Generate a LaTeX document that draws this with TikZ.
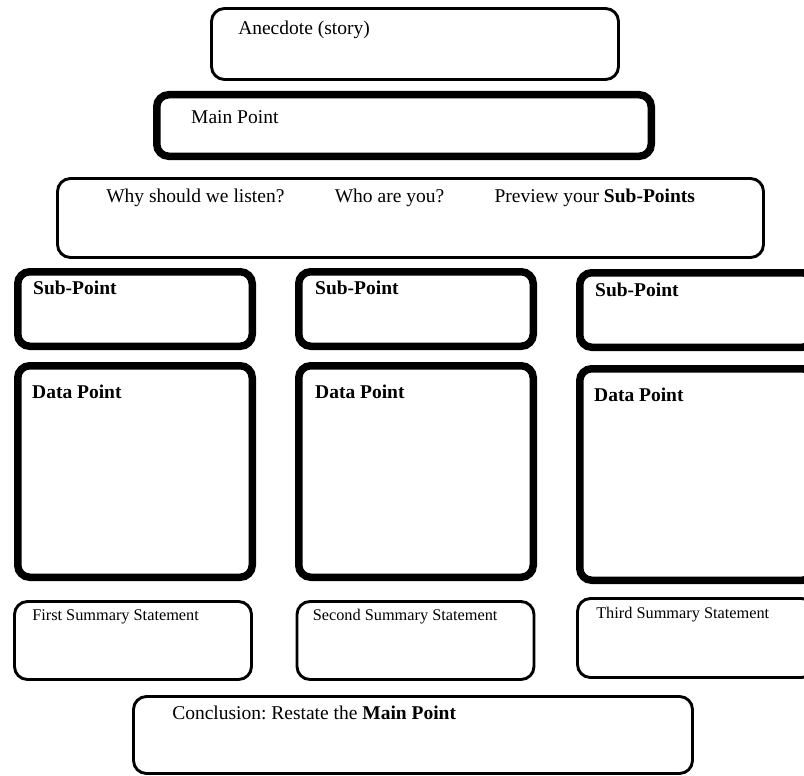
\documentclass[tikz,border=0pt]{standalone}
\usepackage{fontspec}
\setmainfont{Liberation Serif}
\frenchspacing
\usetikzlibrary{shapes, arrows, positioning}
\tikzstyle{thinbox} = [draw, line width=2.9pt, rectangle, rounded corners=13pt]
\tikzstyle{thickbox} = [draw, line width=7.5pt, rectangle, rounded corners=12pt]
\tikzstyle{boxtext} = [inner sep=0pt, text height=14pt, text depth=4pt, font=\fontsize{19.5pt}{23pt}\selectfont]
\tikzstyle{smalltext} = [boxtext, text height=12pt, font=\fontsize{16.3pt}{19pt}\selectfont]
\begin{document}
\begin{tikzpicture}[x=1pt, y=-1pt]
	\useasboundingbox (0,0) rectangle (804,776);
	\node [thinbox, minimum width=407pt, minimum height=71pt] (anecdote) at (415,44) {};
	\node[boxtext, below right=13pt and 28pt] (anecdotetxt) at (anecdote.north west) {Anecdote (story)};
	\node [thickbox, minimum width=494.5pt, minimum height=61.5pt] (mainpt) at (404,125.5) {};
	\node[boxtext, below right=18pt and 38pt] (mainpttxt) at (mainpt.north west) {Main Point};
	\node [thinbox, minimum width=706pt, minimum height=79pt] (intro) at (410.5,218) {};
	\node[boxtext, below right=11.5pt and 50pt] (why) at (intro.north west) {Why should we listen?};
	\node[boxtext, right=50pt of why] (who) {Who are you?};
	\node[boxtext, right=50pt of who] (preview) {Preview your \textbf{Sub-Points}};
	\node [thickbox, minimum width=234.5pt, minimum height=74.5pt] (subA) at (135,309) {};
	\node[boxtext, below right=12.5pt and 19pt] (subAtxt) at (subA.north west) {\textbf{Sub-Point}};
	\node [thickbox, minimum width=234.5pt, minimum height=74.5pt] (subB) at (416,309) {};
	\node[boxtext, below right=12.5pt and 20pt] (subBtxt) at (subB.north west) {\textbf{Sub-Point}};
	\node [thickbox, minimum width=234.5pt, minimum height=74.5pt] (subC) at (697,310) {};
	\node[boxtext, below right=13pt and 19pt] (subCtxt) at (subC.north west) {\textbf{Sub-Point}};
	\node [thickbox, minimum width=234.5pt, minimum height=211.5pt] (dataA) at (135,471.5) {};
	\node[boxtext, below right=22pt and 18pt] (dataAtxt) at (dataA.north west) {\textbf{Data Point}};
	\node [thickbox, minimum width=234.5pt, minimum height=211.5pt] (dataB) at (416,471.5) {};
	\node[boxtext, below right=22pt and 20pt] (dataBtxt) at (dataB.north west) {\textbf{Data Point}};
	\node [thickbox, minimum width=234.5pt, minimum height=211.5pt] (dataC) at (697,474.5) {};
	\node[boxtext, below right=22pt and 18pt] (dataCtxt) at (dataC.north west) {\textbf{Data Point}};
	\node [thinbox, minimum width=237pt, minimum height=78pt] (sumA) at (133,640.5) {};
	\node[smalltext, below right=8.5pt and 19pt] (sumAtxt) at (sumA.north west) {First Summary Statement};
	\node [thinbox, minimum width=237pt, minimum height=78pt] (sumB) at (415.5,640.5) {};
	\node[smalltext, below right=8.5pt and 17pt] (sumBtxt) at (sumB.north west) {Second Summary Statement};
	\node [thinbox, minimum width=237pt, minimum height=79pt] (sumC) at (696,638) {};
	\node[smalltext, below right=9.5pt and 20pt] (sumCtxt) at (sumC.north west) {Third Summary Statement};
	\node [thinbox, minimum width=559pt, minimum height=77pt] (conclusion) at (413,735) {};
	\node[boxtext, below right=10pt and 40pt] (conclusiontxt) at (conclusion.north west) {Conclusion: Restate the \textbf{Main Point}};
\end{tikzpicture}
\end{document}
